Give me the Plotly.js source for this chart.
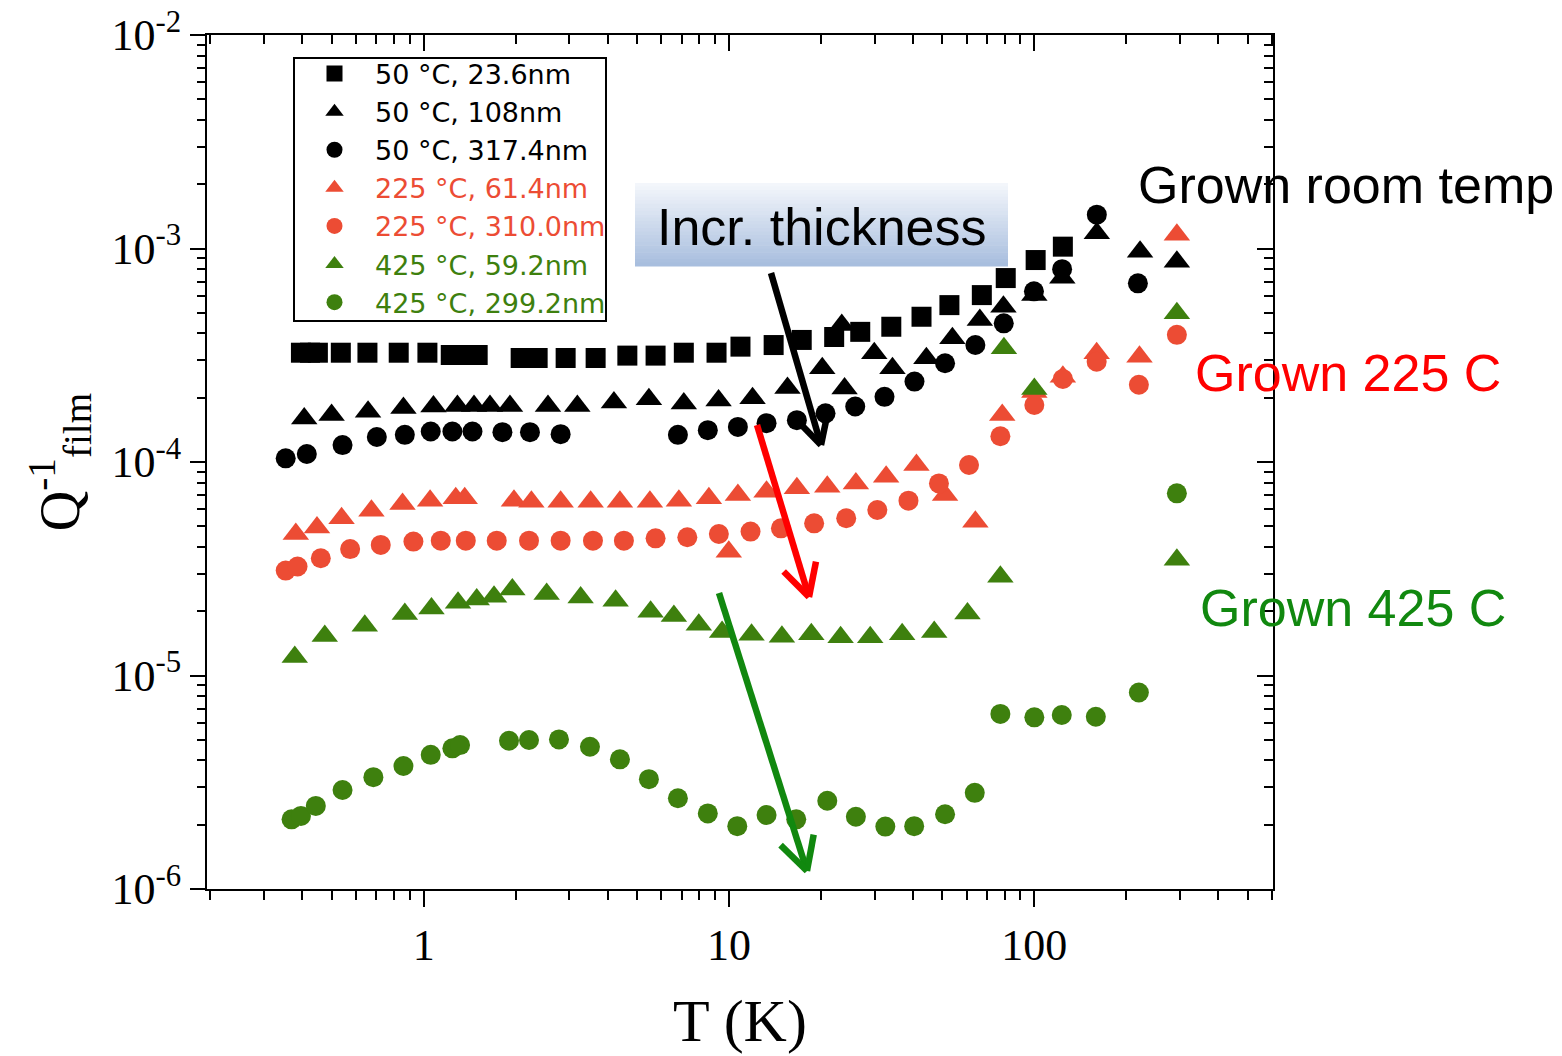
<!DOCTYPE html>
<html><head><meta charset="utf-8">
<script src="https://cdn.plot.ly/plotly-3.0.1.min.js"></script>
<style>html,body{margin:0;padding:0;background:#fff;} #chart{width:1562px;height:1056px;}</style>
</head><body><div id="chart"></div>
<script>
// ---- data ----
const seriesNames = ["50 °C, 23.6nm","50 °C, 108nm","50 °C, 317.4nm","225 °C, 61.4nm","225 °C, 310.0nm","425 °C, 59.2nm","425 °C, 299.2nm"];

const sqT=[0.396,0.424,0.450,0.535,0.654,0.828,1.028,1.226,1.352,1.502,2.077,2.361,2.916,3.656,4.644,5.746,7.11,9.10,10.9,14.0,17.3,22.1,26.9,34.0,42.7,52.7,67.3,80.6,101,124];
const sqQ=[3.25e-4,3.25e-4,3.25e-4,3.25e-4,3.25e-4,3.25e-4,3.25e-4,3.17e-4,3.17e-4,3.17e-4,3.07e-4,3.07e-4,3.07e-4,3.07e-4,3.15e-4,3.15e-4,3.25e-4,3.25e-4,3.47e-4,3.53e-4,3.73e-4,3.85e-4,4.07e-4,4.30e-4,4.79e-4,5.43e-4,6.05e-4,7.27e-4,8.83e-4,1.02e-3];

const triT=[0.406,0.499,0.657,0.858,1.076,1.289,1.461,1.648,1.916,2.552,3.185,4.197,5.464,7.11,9.24,11.94,15.54,20.2,23.4,23.9,29.9,34.3,44.3,53.9,66.3,79.2,100,123.5,160.2,222,293];
const triQ=[1.60e-4,1.66e-4,1.72e-4,1.79e-4,1.82e-4,1.83e-4,1.83e-4,1.83e-4,1.83e-4,1.83e-4,1.83e-4,1.90e-4,1.97e-4,1.88e-4,1.94e-4,1.99e-4,2.22e-4,2.75e-4,4.38e-4,2.21e-4,3.23e-4,2.75e-4,3.06e-4,3.80e-4,4.63e-4,5.34e-4,6.05e-4,7.3e-4,1.18e-3,9.66e-4,8.67e-4];

const cirT=[0.353,0.414,0.542,0.702,0.867,1.054,1.241,1.444,1.81,2.228,2.808,6.80,8.52,10.69,13.27,16.68,20.7,25.9,32.3,40.5,51.0,64.1,79.4,99.7,123.3,160.2,218.4];
const cirQ=[1.04e-4,1.09e-4,1.20e-4,1.31e-4,1.34e-4,1.39e-4,1.39e-4,1.39e-4,1.38e-4,1.38e-4,1.35e-4,1.34e-4,1.41e-4,1.46e-4,1.52e-4,1.57e-4,1.69e-4,1.82e-4,2.02e-4,2.38e-4,2.90e-4,3.53e-4,4.46e-4,6.3e-4,8.0e-4,1.44e-3,6.87e-4];

const rtT=[0.381,0.447,0.538,0.674,0.852,1.049,1.273,1.362,1.975,2.252,2.808,3.521,4.391,5.506,6.85,8.59,9.98,10.69,13.27,16.68,20.98,26.03,32.7,41.1,51.0,64.1,78.5,100,124,160,221,293];
const rtQ=[4.60e-5,4.94e-5,5.45e-5,5.91e-5,6.35e-5,6.59e-5,6.76e-5,6.76e-5,6.59e-5,6.52e-5,6.52e-5,6.52e-5,6.52e-5,6.52e-5,6.59e-5,6.76e-5,3.80e-5,7.0e-5,7.26e-5,7.53e-5,7.66e-5,7.94e-5,8.53e-5,9.68e-5,7.0e-5,5.25e-5,1.66e-4,2.13e-4,2.51e-4,3.23e-4,3.11e-4,1.16e-3];

const rcT=[0.353,0.386,0.460,0.574,0.723,0.925,1.137,1.373,1.734,2.212,2.808,3.583,4.525,5.746,7.30,9.26,11.76,14.79,19.0,24.2,30.6,38.7,48.7,61.1,77.4,100,124,160,220,293];
const rcQ=[3.10e-5,3.24e-5,3.54e-5,3.91e-5,4.09e-5,4.24e-5,4.28e-5,4.28e-5,4.28e-5,4.28e-5,4.28e-5,4.28e-5,4.28e-5,4.39e-5,4.44e-5,4.60e-5,4.72e-5,4.89e-5,5.16e-5,5.45e-5,5.96e-5,6.59e-5,7.94e-5,9.68e-5,1.32e-4,1.85e-4,2.45e-4,2.95e-4,2.30e-4,3.94e-4];

const gtT=[0.378,0.474,0.641,0.867,1.060,1.295,1.491,1.699,1.951,2.527,3.265,4.251,5.534,6.597,7.96,9.49,11.85,14.9,18.6,23.2,29.0,36.9,47.0,60.4,77.4,79.5,100,293,293];
const gtQ=[1.22e-5,1.53e-5,1.71e-5,1.94e-5,2.06e-5,2.19e-5,2.27e-5,2.34e-5,2.53e-5,2.41e-5,2.32e-5,2.24e-5,1.99e-5,1.90e-5,1.73e-5,1.60e-5,1.55e-5,1.52e-5,1.56e-5,1.51e-5,1.51e-5,1.56e-5,1.60e-5,1.95e-5,2.90e-5,3.41e-4,2.2e-4,4.97e-4,3.48e-5];

const gcT=[0.369,0.396,0.443,0.542,0.684,0.858,1.054,1.241,1.315,1.902,2.212,2.773,3.503,4.391,5.464,6.80,8.52,10.64,13.27,16.6,20.98,26.03,32.5,40.4,51.0,63.8,77.4,100,123,159,220,293];
const gcQ=[2.12e-6,2.20e-6,2.45e-6,2.91e-6,3.34e-6,3.77e-6,4.25e-6,4.56e-6,4.72e-6,4.95e-6,4.99e-6,5.02e-6,4.64e-6,4.05e-6,3.27e-6,2.66e-6,2.26e-6,1.97e-6,2.22e-6,2.12e-6,2.59e-6,2.18e-6,1.96e-6,1.97e-6,2.24e-6,2.82e-6,6.61e-6,6.37e-6,6.53e-6,6.41e-6,8.32e-6,7.13e-5];

const xTickVals=[1,10,100];
const xTickText=["1","10","100"];
const yTickVals=[1e-2,1e-3,1e-4,1e-5,1e-6];
const yTickText=["10<sup>-2</sup>","10<sup>-3</sup>","10<sup>-4</sup>","10<sup>-5</sup>","10<sup>-6</sup>"];

// ---- styling ----
const BLACK='#000000', RED='#EC4C34', GREEN='#3E800E';
const xMinor=[], yMinor=[];
[0.1,1,10,100].forEach(d=>{for(let k=2;k<=9;k++){xMinor.push(k*d);}});
[1e-6,1e-5,1e-4,1e-3].forEach(d=>{for(let k=2;k<=9;k++){yMinor.push(k*d);}});

function tr(x,y,name,sym,color,size){
  return {x:x,y:y,type:'scatter',mode:'markers',cliponaxis:false,
    name:'<span style="color:'+color+'">'+name+'</span>',
    marker:{symbol:sym,color:color,size:size,line:{width:0}}};
}
const data=[
  tr(sqT,sqQ,seriesNames[0],'square',BLACK,20),
  tr(triT,triQ,seriesNames[1],'triangle-up',BLACK,23),
  tr(cirT,cirQ,seriesNames[2],'circle',BLACK,20),
  tr(rtT,rtQ,seriesNames[3],'triangle-up',RED,23),
  tr(rcT,rcQ,seriesNames[4],'circle',RED,20),
  tr(gtT,gtQ,seriesNames[5],'triangle-up',GREEN,23),
  tr(gcT,gcQ,seriesNames[6],'circle',GREEN,20),
  {x:[],y:[],xaxis:'x2',yaxis:'y2',type:'scatter',mode:'markers',showlegend:false,hoverinfo:'skip'}
];

// pixel -> paper helpers (plot area: left 207, top 35, 1066 x 854)
const L=207,T=35,W=1066,H=854;
const px=v=>(v-L)/W, py=v=>(T+H-v)/H;

const shapes=[];
// legend frame
shapes.push({type:'rect',xref:'paper',yref:'paper',layer:'below',x0:px(294),x1:px(606),y0:py(58),y1:py(321),
  fillcolor:'#fff',line:{color:'#000',width:2}});
// gradient label box
const bx0=635,bx1=1008,by0=183,by1=266,N=24;
for(let i=0;i<N;i++){
  const f=i/(N-1);
  const r=Math.round(243+(168-243)*f), g=Math.round(246+(190-246)*f), b=Math.round(251+(222-251)*f);
  shapes.push({type:'rect',xref:'paper',yref:'paper',layer:'above',
    x0:px(bx0),x1:px(bx1),y0:py(by0+(by1-by0)*i/N),y1:py(by0+(by1-by0)*(i+1)/N+0.6),
    fillcolor:'rgb('+r+','+g+','+b+')',line:{width:0}});
}
function arrow(x0,y0,x1,y1,color,w,len){
  const dx=x0-x1, dy=y0-y1, d=Math.hypot(dx,dy), ux=dx/d, uy=dy/d;
  const a=28*Math.PI/180;
  const r1x=ux*Math.cos(a)-uy*Math.sin(a), r1y=ux*Math.sin(a)+uy*Math.cos(a);
  const r2x=ux*Math.cos(-a)-uy*Math.sin(-a), r2y=ux*Math.sin(-a)+uy*Math.cos(-a);
  const ln={color:color,width:w};
  shapes.push({type:'line',xref:'paper',yref:'paper',layer:'above',x0:px(x0),y0:py(y0),x1:px(x1),y1:py(y1),line:ln});
  shapes.push({type:'line',xref:'paper',yref:'paper',layer:'above',x0:px(x1),y0:py(y1),x1:px(x1+r1x*len),y1:py(y1+r1y*len),line:ln});
  shapes.push({type:'line',xref:'paper',yref:'paper',layer:'above',x0:px(x1),y0:py(y1),x1:px(x1+r2x*len),y1:py(y1+r2y*len),line:ln});
}
arrow(771,273,821,445,'#000000',6.5,30);
arrow(757,425,809,597,'#FF0000',6.5,36);
arrow(719,593,807,871,'#11880F',6.5,37);

const sans='Liberation Sans, Arial, sans-serif';
const serif='Liberation Serif, Times New Roman, serif';
const annotations=[
  {text:'Incr. thickness',xref:'paper',yref:'paper',x:px(821),y:py(227),xanchor:'center',yanchor:'middle',showarrow:false,font:{family:sans,size:52,color:'#000'}},
  {text:'Grown room temp',xref:'paper',yref:'paper',x:px(1346),y:py(185),xanchor:'center',yanchor:'middle',showarrow:false,font:{family:sans,size:52,color:'#000'}},
  {text:'Grown 225 C',xref:'paper',yref:'paper',x:px(1348),y:py(373),xanchor:'center',yanchor:'middle',showarrow:false,font:{family:sans,size:52,color:'#FF0000'}},
  {text:'Grown 425 C',xref:'paper',yref:'paper',x:px(1353),y:py(608),xanchor:'center',yanchor:'middle',showarrow:false,font:{family:sans,size:52,color:'#11880F'}}
];

const xr=[Math.log10(0.195),Math.log10(605)], yr=[-6,-2];
const axCommon={showgrid:false,zeroline:false,showline:true,linecolor:'#000',linewidth:2,tickcolor:'#000',tickwidth:2,ticklen:16,autorange:false};
const layout={
  width:1562,height:1056,paper_bgcolor:'#fff',plot_bgcolor:'#fff',
  margin:{l:L,r:1562-L-W,t:T,b:1056-T-H},
  showlegend:true,
  legend:{x:px(294),y:py(49.5),xanchor:'left',yanchor:'top',bgcolor:'rgba(0,0,0,0)',borderwidth:0,
    font:{family:'DejaVu Sans, sans-serif',size:27,color:'#000'},itemwidth:71,tracegroupgap:0},
  xaxis:Object.assign({},axCommon,{type:'log',range:xr,tickmode:'array',tickvals:xTickVals,ticktext:xTickText,ticks:'outside',
    tickfont:{family:serif,size:44,color:'#000'},
    minor:{tickmode:'array',tickvals:xMinor,ticks:'outside',ticklen:9,tickwidth:2,tickcolor:'#000',showgrid:false},
    title:{text:'T (K)',font:{family:serif,size:60,color:'#000'},standoff:30}}),
  yaxis:Object.assign({},axCommon,{type:'log',range:yr,tickmode:'array',tickvals:yTickVals,ticktext:yTickText,ticks:'outside',ticklen:15,
    tickfont:{family:serif,size:44,color:'#000'},
    minor:{tickmode:'array',tickvals:yMinor,ticks:'outside',ticklen:8,tickwidth:2,tickcolor:'#000',showgrid:false},
    title:{text:'Q<sup>-1</sup><sub>film</sub>',font:{family:serif,size:56,color:'#000'},standoff:14}}),
  xaxis2:Object.assign({},axCommon,{type:'log',range:xr,overlaying:'x',side:'top',anchor:'y2',tickmode:'array',tickvals:xTickVals,ticks:'inside',showticklabels:false,
    minor:{tickmode:'array',tickvals:xMinor,ticks:'inside',ticklen:9,tickwidth:2,tickcolor:'#000',showgrid:false}}),
  yaxis2:Object.assign({},axCommon,{type:'log',range:yr,overlaying:'y',side:'right',anchor:'x2',tickmode:'array',tickvals:yTickVals,ticks:'inside',showticklabels:false,
    minor:{tickmode:'array',tickvals:yMinor,ticks:'inside',ticklen:9,tickwidth:2,tickcolor:'#000',showgrid:false}}),
  shapes:shapes,
  annotations:annotations
};
Plotly.newPlot('chart',data,layout,{displayModeBar:false,staticPlot:true});
</script>
</body></html>
